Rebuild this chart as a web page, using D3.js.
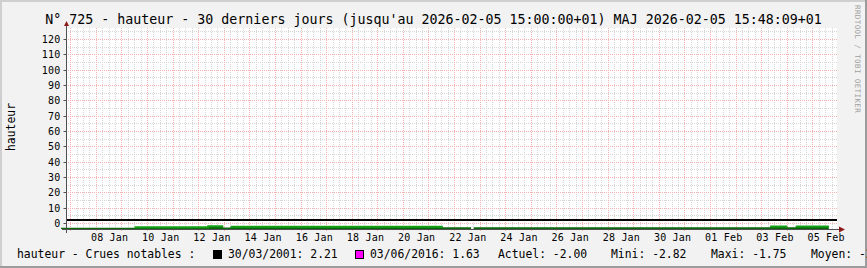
<!DOCTYPE html>
<html><head><meta charset="utf-8">
<script src="https://cdn.jsdelivr.net/npm/d3@7"></script>
<style>
html,body{margin:0;padding:0;background:#f2f2f2;}
svg{display:block;}
text{font-family:"DejaVu Sans Mono",monospace;}
</style></head><body>
<svg id="c" width="867" height="268"></svg>
<script>
// ---- texts ----
const titre = "N° 725 - hauteur - 30 derniers jours (jusqu'au 2026-02-05 15:00:00+01) MAJ 2026-02-05 15:48:09+01";
const etiquetteY = "hauteur";
const signature = "RRDTOOL / TOBI OETIKER";
const legendeTitre = "hauteur - Crues notables :";

// ---- axes ----
const graduationsY = [0, 10, 20, 30, 40, 50, 60, 70, 80, 90, 100, 110, 120];
const joursEtiquettes = ["2026-01-08", "2026-01-10", "2026-01-12", "2026-01-14", "2026-01-16",
  "2026-01-18", "2026-01-20", "2026-01-22", "2026-01-24", "2026-01-26", "2026-01-28",
  "2026-01-30", "2026-02-01", "2026-02-03", "2026-02-05"];
const debutAxe = "2026-01-06T19:35";
const finAxe = "2026-02-05T22:41";
const minY = -3.6, maxY = 127.5;

// ---- series : water level (step segments) ----
const debutsSegments = ["2026-01-06T15:00", "2026-01-09T12:00", "2026-01-12T09:00", "2026-01-12T23:00",
  "2026-01-13T06:00", "2026-01-21T13:00", "2026-01-22T15:30", "2026-01-22T18:00",
  "2026-02-03T08:00", "2026-02-04T00:00", "2026-02-04T08:00"];
const finDonnees = "2026-02-05T15:00";
const hauteurs = [-2.82, -2.40, -1.75, -2.60, -2.10, -2.45, null, -2.45, -2.00, -2.45, -2.00];
const validees = [false, true, true, false, true, false, false, false, true, false, true];

// ---- notable floods (horizontal rules) ----
const cruesDates = ["30/03/2001", "03/06/2016"];
const cruesValeurs = [2.21, 1.63];
const cruesCouleurs = ["#000000", "#ff00ff"];

// ---- statistics ----
const statsNoms = ["Actuel", "Mini", "Maxi", "Moyen"];
const statsValeurs = [-2.00, -2.82, -1.75, -2.37];

const parse = d3.utcParse("%Y-%m-%dT%H:%M");
const parseJour = d3.utcParse("%Y-%m-%d");
const fmt = d3.utcFormat("%d %b");
const crisp = v => Math.floor(v) + 0.5;

const W = 867, H = 268;
const L = 66, R = 837, T = 28, B = 229;
const svg = d3.select("#c");

const x = d3.scaleUtc().domain([parse(debutAxe), parse(finAxe)]).range([L, R]);
const y = d3.scaleLinear().domain([minY, maxY]).range([B, T]);

// frame
svg.append("rect").attr("x", 0).attr("y", 0).attr("width", W).attr("height", H).attr("fill", "#f2f2f2");
svg.append("rect").attr("x", 0).attr("y", 0).attr("width", W).attr("height", 2).attr("fill", "#cfcfcf");
svg.append("rect").attr("x", 0).attr("y", 0).attr("width", 2).attr("height", H).attr("fill", "#cfcfcf");
svg.append("rect").attr("x", 0).attr("y", H - 2).attr("width", W).attr("height", 2).attr("fill", "#9c9c9c");
svg.append("rect").attr("x", W - 2).attr("y", 0).attr("width", 2).attr("height", H).attr("fill", "#9c9c9c");

// plot background
svg.append("rect").attr("x", L).attr("y", T).attr("width", R - L).attr("height", B - T).attr("fill", "#ffffff");

// grid
const grid = svg.append("g").attr("fill", "none").attr("stroke-width", 1).attr("stroke-dasharray", "1,1");
const [d0, d1] = x.domain();
const heures6 = d3.utcHour.every(6).range(d0, d1).filter(d => d.getUTCHours() !== 0);
const jours = d3.utcDay.range(d0, d1);
grid.selectAll(".vmin").data(heures6).join("line")
  .attr("x1", d => crisp(x(d))).attr("x2", d => crisp(x(d)))
  .attr("y1", T).attr("y2", B).attr("stroke", "#d6d6d6");
const mineursY = d3.range(5, maxY, 10);
grid.selectAll(".hmin").data(mineursY).join("line")
  .attr("x1", L).attr("x2", R).attr("y1", d => crisp(y(d))).attr("y2", d => crisp(y(d)))
  .attr("stroke", "#d6d6d6");
grid.selectAll(".vmaj").data(jours).join("line")
  .attr("x1", d => crisp(x(d))).attr("x2", d => crisp(x(d)))
  .attr("y1", T).attr("y2", B + 3).attr("stroke", "#f5b0b0");
grid.selectAll(".hmaj").data(graduationsY).join("line")
  .attr("x1", L).attr("x2", R).attr("y1", d => crisp(y(d))).attr("y2", d => crisp(y(d)))
  .attr("stroke", "#f5b0b0");

// series points
const pts = [];
const ptsValides = [];
debutsSegments.forEach((s, i) => {
  const t0 = parse(s), t1 = parse(i + 1 < debutsSegments.length ? debutsSegments[i + 1] : finDonnees);
  const v = hauteurs[i];
  pts.push({ t: t0, v }, { t: t1, v });
  const vv = validees[i] ? v : null;
  ptsValides.push({ t: t0, v: vv }, { t: t1, v: vv });
});

const plot = svg.append("g");
plot.append("path").datum(pts)
  .attr("fill", "#0b660b")
  .attr("d", d3.area().defined(d => d.v !== null).x(d => x(d.t)).y0(y(minY)).y1(d => y(d.v)));
plot.append("path").datum(ptsValides)
  .attr("fill", "none").attr("stroke", "#14a014").attr("stroke-width", 2)
  .attr("d", d3.line().defined(d => d.v !== null).x(d => x(d.t)).y(d => y(d.v)));

// horizontal rules (notable floods): magenta 1px, black 2px
plot.append("line").attr("x1", L).attr("x2", R)
  .attr("y1", crisp(y(cruesValeurs[1]))).attr("y2", crisp(y(cruesValeurs[1])))
  .attr("stroke", cruesCouleurs[1]).attr("stroke-width", 1);
plot.append("line").attr("x1", L).attr("x2", R)
  .attr("y1", Math.floor(y(cruesValeurs[0]))).attr("y2", Math.floor(y(cruesValeurs[0])))
  .attr("stroke", cruesCouleurs[0]).attr("stroke-width", 2);

// y axis
const axY = svg.append("g").attr("transform", `translate(${L + 0.5},0)`)
  .call(d3.axisLeft(y).tickValues(graduationsY).tickSize(3).tickPadding(3));
axY.select(".domain").remove();
axY.selectAll(".tick").attr("transform", d => `translate(0,${crisp(y(d))})`);
axY.selectAll(".tick line").attr("stroke", "#505050");
axY.selectAll(".tick text").attr("font-family", "DejaVu Sans Mono").attr("font-size", 10)
  .attr("fill", "#000").attr("letter-spacing", 0.2);

// x axis labels (centred at noon)
const datesEtiq = joursEtiquettes.map(s => d3.utcHour.offset(parseJour(s), 12));
const axX = svg.append("g").attr("transform", `translate(0,${B})`)
  .call(d3.axisBottom(x).tickValues(datesEtiq).tickFormat(d => fmt(d)).tickSize(0).tickPadding(4.5));
axX.select(".domain").remove();
axX.selectAll(".tick text").attr("font-family", "DejaVu Sans Mono").attr("font-size", 10)
  .attr("fill", "#000").attr("letter-spacing", 0.2);

// axis lines and arrows
svg.append("line").attr("x1", L + 0.5).attr("x2", L + 0.5).attr("y1", B + 4).attr("y2", T - 2)
  .attr("stroke", "#505050");
svg.append("line").attr("x1", L - 4).attr("x2", R + 2).attr("y1", B + 0.5).attr("y2", B + 0.5)
  .attr("stroke", "#505050");
svg.append("path").attr("d", `M${L - 2},${T - 2}L${L + 3},${T - 2}L${L + 0.5},${T - 7}Z`).attr("fill", "#8b1a1a");
svg.append("path").attr("d", `M${R + 2},${B - 2.5}L${R + 2},${B + 3.5}L${R + 8},${B + 0.5}Z`).attr("fill", "#8b1a1a");

// title
svg.append("text").attr("x", W / 2).attr("y", 24).attr("text-anchor", "middle")
  .attr("font-size", 13.3).attr("fill", "#000").text(titre);

// y label
svg.append("text").attr("transform", "translate(14.5,127) rotate(-90)").attr("text-anchor", "middle")
  .attr("font-size", 11.4).attr("fill", "#000").text(etiquetteY);

// signature
svg.append("text").attr("transform", "translate(855,5) rotate(90)")
  .attr("font-size", 7.5).attr("letter-spacing", 0.4).attr("fill", "#a0a0a0").text(signature);

// legend (the last statistic runs off the right edge, as in the reference)
const lg = svg.append("g").attr("font-size", 11.4).attr("fill", "#000");
const LB = 258;
lg.append("text").attr("x", 17).attr("y", LB).text(legendeTitre);
const boxX = [213.5, 355.5], txtX = [228, 370];
cruesDates.forEach((d, i) => {
  lg.append("rect").attr("x", boxX[i]).attr("y", 250.5).attr("width", 8).attr("height", 8)
    .attr("fill", cruesCouleurs[i]).attr("stroke", "#000").attr("stroke-width", 1);
  lg.append("text").attr("x", txtX[i]).attr("y", LB).text(`${d}: ${cruesValeurs[i].toFixed(2)}`);
});
const statX = [498, 611, 711, 811];
statsNoms.forEach((n, i) => {
  lg.append("text").attr("x", statX[i]).attr("y", LB).text(`${n}: ${statsValeurs[i].toFixed(2)}`);
});
</script>
</body></html>
